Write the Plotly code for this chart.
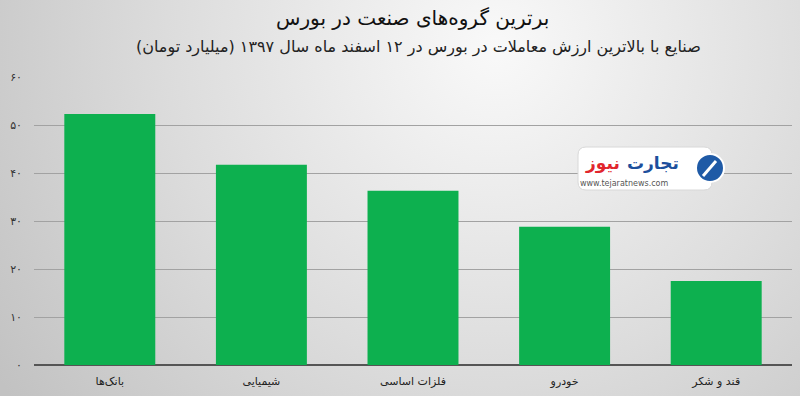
import base64
import plotly.graph_objects as go

categories = ["بانک‌ها", "شیمیایی", "فلزات اساسی", "خودرو", "قند و شکر"]
values = [52.3, 41.7, 36.3, 28.8, 17.5]
tick_vals = [0, 10, 20, 30, 40, 50, 60]
tick_text = ["۰", "۱۰", "۲۰", "۳۰", "۴۰", "۵۰", "۶۰"]
title_text = "برترین گروه‌های صنعت در بورس"
subtitle_text = "صنایع با بالاترین ارزش معاملات در بورس در ۱۲ اسفند ماه سال ۱۳۹۷ (میلیارد تومان)"

W, H = 800, 396
L, R, T, B = 34, 8, 77, 31
pw, ph = W - L - R, H - T - B

FONT = "DejaVu Sans"

svg = f'''<svg xmlns="http://www.w3.org/2000/svg" width="{W}" height="{H}" viewBox="0 0 {W} {H}" preserveAspectRatio="none">
<defs><radialGradient id="g" cx="0.62" cy="0.12" r="0.75" gradientTransform="translate(0.62 0.12) scale(1 2) translate(-0.62 -0.12)">
<stop offset="0" stop-color="#f9f9f9"/><stop offset="0.55" stop-color="#dcdcdc"/><stop offset="1" stop-color="#c2c2c2"/></radialGradient></defs>
<rect x="0" y="0" width="{W}" height="{H}" fill="url(#g)"/></svg>'''
bg_src = "data:image/svg+xml;base64," + base64.b64encode(svg.encode()).decode()

fig = go.Figure()
fig.add_trace(go.Bar(x=categories, y=values, marker=dict(color="#0db04f", line=dict(width=0)),
                     hoverinfo="skip"))

def px(x):
    return (x - L) / pw

def py(y):
    return (H - B - y) / ph

fig.update_layout(
    width=W, height=H,
    margin=dict(l=L, r=R, t=T, b=B, pad=0),
    paper_bgcolor="rgba(0,0,0,0)", plot_bgcolor="rgba(0,0,0,0)",
    bargap=0.4, showlegend=False,
    font=dict(family=FONT, color="#222222"),
    xaxis=dict(showgrid=False, showline=False, ticks="", tickfont=dict(size=11, color="#222"),
               ticklabelstandoff=8),
    yaxis=dict(range=[0, 60], tickvals=tick_vals, ticktext=tick_text, showgrid=True,
               gridcolor="#a2a2a2", gridwidth=1, zeroline=True, zerolinecolor="#555555", zerolinewidth=2,
               showline=False, ticks="", tickfont=dict(size=11, color="#333"), ticklabelstandoff=11),
    images=[dict(source=bg_src, xref="paper", yref="paper", x=-L / pw, y=1 + T / ph,
                 sizex=W / pw, sizey=H / ph, sizing="stretch", layer="below", xanchor="left", yanchor="top")],
)

fig.add_annotation(text=title_text, xref="paper", yref="paper", x=px(412), y=py(18), showarrow=False,
                   font=dict(size=20, color="#111", family=FONT), xanchor="center", yanchor="middle")
fig.add_annotation(text=subtitle_text, xref="paper", yref="paper", x=px(418), y=py(47), showarrow=False,
                   font=dict(size=16, color="#222", family=FONT), xanchor="center", yanchor="middle")

# logo badge
x0, x1, y0, y1, r = px(578), px(712), py(147), py(190), 8
rx, ry = r / pw, r / ph
path = (f"M {x0+rx},{y0} L {x1-rx},{y0} Q {x1},{y0} {x1},{y0-ry} L {x1},{y1+ry} Q {x1},{y1} {x1-rx},{y1} "
        f"L {x0+rx},{y1} Q {x0},{y1} {x0},{y1+ry} L {x0},{y0-ry} Q {x0},{y0} {x0+rx},{y0} Z")
fig.add_shape(type="path", path=path, xref="paper", yref="paper", fillcolor="white",
              line=dict(color="#d8d8d8", width=1), layer="above")
fig.add_shape(type="circle", xref="paper", yref="paper", x0=px(696), x1=px(724), y0=py(154), y1=py(182),
              fillcolor="#1f5aa6", line=dict(color="white", width=2), layer="above")
fig.add_shape(type="line", xref="paper", yref="paper", x0=px(703), y0=py(176), x1=px(716), y1=py(161),
              line=dict(color="white", width=3), layer="above")
fig.add_annotation(text="<b>تجارت</b>", xref="paper", yref="paper", x=px(625), y=py(163), showarrow=False,
                   font=dict(size=17, color="#1d4f9c", family=FONT), xanchor="left", yanchor="middle")
fig.add_annotation(text="<b>نیوز</b>", xref="paper", yref="paper", x=px(622), y=py(163), showarrow=False,
                   font=dict(size=17, color="#e1262d", family=FONT), xanchor="right", yanchor="middle")
fig.add_annotation(text="www.tejaratnews.com", xref="paper", yref="paper", x=px(624), y=py(183), showarrow=False,
                   font=dict(size=8, color="#555", family=FONT), xanchor="center", yanchor="middle")

fig.write_html("out.html")
